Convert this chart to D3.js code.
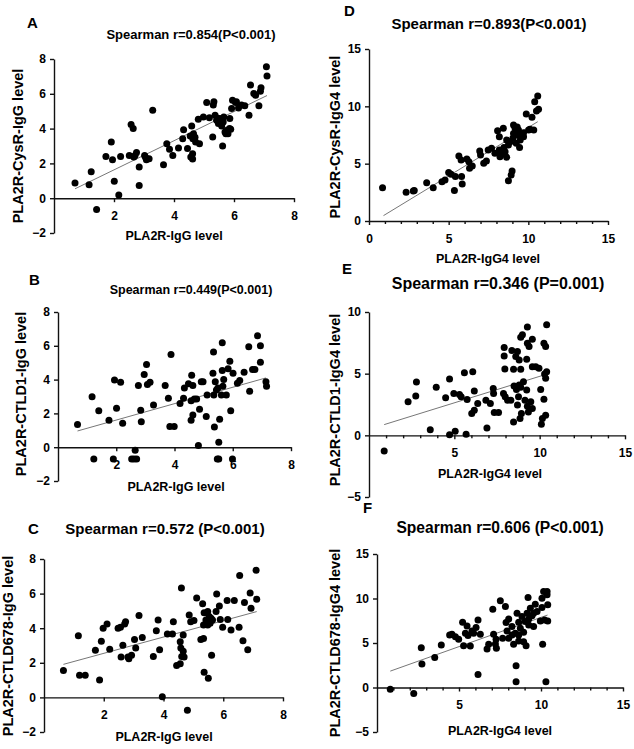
<!DOCTYPE html>
<html>
<head>
<meta charset="utf-8">
<script src="https://cdn.jsdelivr.net/npm/d3@7"></script>
<style>
  body { margin: 0; background: #fff; }
  svg text { font-family: Arial, "Liberation Sans", sans-serif; font-weight: bold; fill: #000; }
</style>
</head>
<body>
<svg id="chart" width="634" height="749"></svg>
<script>
// ---- data: [PLA2R-IgG(4) level, fragment level] ----
const cysrIgG = [[0.70,0.88],[1.17,0.77],[1.24,1.52],[1.42,-0.65],[1.73,2.40],[1.91,3.23],[1.95,2.21],[2.01,0.98],
  [2.16,0.19],[2.22,2.40],[2.51,2.46],[2.57,4.23],[2.64,4.00],[2.66,2.37],[2.75,2.62],[2.84,1.79],[2.84,0.73],
  [3.02,2.46],[3.08,2.21],[3.17,2.27],[3.29,5.06],[3.65,1.92],[3.76,3.13],[3.85,2.81],[3.96,2.46],[4.15,2.88],
  [4.29,3.42],[4.32,3.94],[4.45,2.85],[4.54,3.58],[4.59,4.15],[4.63,3.42],[4.56,2.37],[4.62,2.56],[4.72,3.23],
  [4.81,4.54],[4.85,3.13],[4.98,4.67],[5.09,5.50],[5.18,4.62],[5.31,5.35],[5.33,5.54],[5.29,3.52],[5.37,4.77],
  [5.42,4.48],[5.48,4.29],[5.53,4.58],[5.59,4.15],[5.62,3.00],[5.66,4.67],[5.73,3.71],[5.77,3.90],[5.86,4.58],
  [5.89,3.96],[5.92,5.15],[5.95,5.63],[6.08,5.54],[6.15,5.19],[6.25,5.35],[6.36,5.31],[6.50,4.77],[6.55,6.50],
  [6.66,6.02],[6.72,5.92],[6.83,5.31],[6.88,6.15],[6.90,6.35],[7.08,7.56],[7.10,7.02],[5.64,4.38],[4.62,2.25],
  [5.45,4.60],[5.55,4.40],[5.70,3.80],[5.80,3.70],[5.85,4.00],[6.05,5.50],[2.70,2.45],[3.05,2.35],[4.65,3.70],[4.70,3.50]];
const cysrIgG4 = [[0.85,2.91],[2.33,2.50],[2.78,2.62],[2.84,2.65],[3.62,3.34],[4.03,2.91],[4.58,3.43],[4.77,3.58],
  [5.00,4.22],[5.15,4.07],[5.36,2.67],[5.42,3.87],[5.64,5.67],[5.78,5.32],[5.81,3.87],[5.85,3.23],[6.14,5.41],
  [6.27,5.17],[6.31,4.59],[6.48,4.80],[6.95,6.10],[7.00,5.76],[7.20,5.03],[7.37,5.23],[7.48,6.19],[7.69,6.34],
  [7.90,5.90],[8.07,7.88],[8.18,7.35],[8.18,6.19],[8.22,5.61],[8.43,8.08],[8.47,6.42],[8.54,6.05],[8.64,5.55],
  [8.75,3.52],[8.75,6.63],[8.86,6.92],[8.92,4.01],[8.98,4.36],[9.03,7.21],[9.07,8.37],[9.17,8.08],[9.28,7.50],
  [9.38,7.94],[9.45,6.42],[9.49,7.06],[9.60,7.50],[9.70,7.35],[9.87,9.33],[10.02,7.94],[10.23,9.04],[10.34,7.94],
  [10.40,10.41],[10.51,9.59],[10.59,10.90],[10.64,9.74],[9.24,6.77],[9.07,7.64],[8.64,7.06],[9.70,7.70],
  [10.10,8.00],[9.30,8.20],[8.30,5.80]];
const ctld1IgG = [[0.67,1.35],[1.17,2.99],[1.23,-0.70],[1.40,2.15],[1.75,1.59],[1.90,-0.70],[1.94,3.98],[2.01,2.31],
  [2.15,3.84],[2.22,1.41],[2.53,-0.70],[2.61,-0.70],[2.65,-0.18],[2.70,-0.70],[2.76,3.65],[2.84,2.19],[2.86,1.51],
  [2.96,4.30],[3.04,4.90],[3.07,3.71],[3.16,3.84],[3.28,2.49],[3.68,3.65],[3.79,2.89],[3.88,5.48],[3.84,1.22],
  [3.99,1.22],[4.19,2.59],[4.31,2.89],[4.34,3.51],[4.48,3.75],[4.57,2.75],[4.59,4.26],[4.63,3.65],[4.57,1.59],
  [4.63,1.91],[4.68,2.85],[4.76,2.85],[4.82,0.10],[4.86,2.25],[4.92,3.88],[4.98,3.88],[5.09,1.81],[5.12,3.09],
  [5.32,4.38],[5.34,5.64],[5.35,3.09],[5.37,1.20],[5.40,3.88],[5.44,3.39],[5.49,3.51],[5.47,-0.70],[5.52,0.30],
  [5.55,1.65],[5.61,3.09],[5.64,4.54],[5.64,6.18],[5.69,4.00],[5.78,3.09],[5.84,4.64],[5.90,5.08],[5.93,2.15],
  [5.99,-0.70],[6.01,4.38],[6.16,3.78],[6.24,3.94],[6.39,4.44],[6.55,5.94],[6.58,3.31],[6.68,4.60],[6.76,4.60],
  [6.85,6.59],[6.95,6.00],[6.95,5.02],[7.14,3.88],[7.16,3.61],[5.52,-0.70],[5.66,3.60]];
const ctld1IgG4 = [[0.89,-1.28],[2.29,2.72],[2.74,3.18],[2.78,4.32],[3.59,0.46],[3.94,3.89],[4.49,3.04],[4.72,0.05],
  [4.72,4.57],[4.97,3.40],[5.05,0.33],[5.30,3.32],[5.40,3.13],[5.59,5.08],[5.69,0.08],[5.75,2.91],[6.02,1.77],
  [6.08,5.16],[6.17,3.59],[6.17,2.04],[6.37,2.58],[6.91,0.60],[6.85,2.85],[7.11,2.58],[7.28,3.80],[7.30,3.40],
  [7.34,1.85],[7.59,1.85],[7.92,7.12],[7.92,6.44],[7.96,5.38],[7.88,3.40],[7.98,3.13],[8.12,2.85],[8.31,2.85],
  [8.37,6.88],[8.47,5.35],[8.47,1.09],[8.50,3.99],[8.60,6.39],[8.64,3.72],[8.70,2.45],[8.70,6.79],[8.80,6.11],
  [8.80,4.08],[8.85,1.36],[8.89,7.96],[8.89,5.35],[8.93,1.77],[8.99,8.15],[9.05,4.35],[9.14,2.85],[9.24,6.17],
  [9.24,3.67],[9.28,8.78],[9.28,7.47],[9.28,2.36],[9.34,1.90],[9.38,7.20],[9.48,2.72],[9.57,7.80],[9.57,5.57],
  [9.57,2.17],[9.77,5.57],[9.96,5.43],[10.06,3.72],[10.10,0.90],[10.16,1.36],[10.25,7.47],[10.25,2.93],
  [10.29,4.97],[10.35,7.20],[10.35,4.62],[10.35,1.63],[10.41,8.97],[10.41,5.16],[8.76,3.13],[8.89,3.89]];
const ctld678IgG = [[0.65,1.56],[1.15,3.56],[1.19,1.28],[1.38,1.28],[1.72,2.72],[1.86,1.01],[1.92,3.25],[1.98,3.99],
  [2.11,4.24],[2.20,2.78],[2.48,3.99],[2.56,4.05],[2.58,2.33],[2.64,3.02],[2.70,4.24],[2.73,4.38],[2.81,2.33],
  [2.84,2.24],[2.93,2.43],[3.03,3.35],[3.07,2.86],[3.18,4.73],[3.29,3.46],[3.66,2.37],[3.76,3.85],[3.82,4.47],
  [3.87,2.76],[3.96,0.04],[4.13,3.66],[4.30,3.66],[4.33,4.38],[4.44,1.85],[4.56,1.95],[4.56,3.21],[4.58,2.86],
  [4.60,6.32],[4.61,2.37],[4.66,2.67],[4.69,2.33],[4.66,3.60],[4.80,-0.74],[4.86,4.77],[4.91,4.38],[5.02,4.44],
  [5.11,5.74],[5.25,3.35],[5.31,5.41],[5.34,3.40],[5.34,4.18],[5.36,4.90],[5.36,1.46],[5.42,4.47],[5.48,4.96],
  [5.50,1.11],[5.53,4.67],[5.56,4.28],[5.61,2.43],[5.64,4.47],[5.76,4.96],[5.78,5.97],[5.87,5.29],[5.90,4.51],
  [5.98,4.05],[6.13,5.60],[6.15,4.51],[6.26,3.89],[6.37,5.60],[6.53,4.05],[6.55,7.04],[6.66,3.27],[6.71,5.49],
  [6.82,2.76],[6.90,6.03],[6.93,5.16],[7.10,7.35],[7.12,5.68],[5.59,4.57],[5.48,4.18]];
const ctld678IgG4 = [[0.81,-0.19],[2.24,-0.68],[2.70,4.47],[2.74,2.63],[3.52,3.38],[3.92,4.77],[4.43,5.90],[4.57,5.98],
  [4.78,5.71],[4.98,5.41],[5.22,7.33],[5.28,4.70],[5.39,6.09],[5.49,6.92],[5.55,5.83],[5.69,4.66],[5.79,6.35],
  [5.89,6.09],[6.04,6.73],[6.16,7.59],[6.16,1.47],[6.30,5.98],[6.71,4.32],[6.81,4.85],[7.06,8.80],[7.11,5.98],
  [7.22,4.89],[7.28,4.40],[7.26,5.41],[7.52,9.74],[7.83,9.10],[7.87,7.29],[7.93,6.35],[8.03,5.53],[8.03,7.71],
  [8.23,6.84],[8.33,4.85],[8.43,6.09],[8.48,2.44],[8.48,0.64],[8.54,8.35],[8.64,7.33],[8.64,5.23],[8.74,6.65],
  [8.84,7.97],[8.94,6.20],[9.04,7.41],[9.09,4.70],[9.15,8.35],[9.21,10.11],[9.25,7.03],[9.35,8.91],[9.45,8.05],
  [9.55,6.84],[9.65,9.36],[9.76,8.53],[9.96,7.48],[10.06,10.04],[10.06,8.98],[10.10,4.85],[10.16,10.79],
  [10.22,7.59],[10.30,0.64],[10.37,10.79],[10.37,10.41],[10.41,9.29],[10.41,7.48],[8.64,5.90],[8.94,5.15],
  [9.25,7.71],[9.55,8.35],[8.23,5.90],[7.66,5.53]];

// fitted lines (end points as drawn)
const fitA = [[0.70,0.54],[7.10,5.90]];
const fitB = [[0.67,0.96],[7.14,4.10]];
const fitC = [[0.65,1.91],[7.12,4.96]];
const fitD = [[0.91,0.47],[10.59,8.66]];
const fitE = [[0.89,0.87],[10.25,4.89]];
const fitF = [[0.81,1.84],[10.40,8.14]];

const ticksIgG = [2, 4, 6, 8];
const ticksIgGY = [-2, 0, 2, 4, 6, 8];
const ticksIgG4D = [0, 5, 10, 15];
const ticksIgG4 = [5, 10, 15];
const minorIgG4 = d3.range(1, 15).filter(v => v % 5 !== 0);
const ticksE_Y = [-5, 0, 5, 10];
const ticksF_Y = [-5, 0, 5, 10, 15];

const panels = [
  { letter: "A", title: "Spearman r=0.854(P<0.001)", titleSize: 13, pts: cysrIgG, fit: fitA,
    xDom: [0, 8], xR: [54, 294], yDom: [-2, 8], yR: [233, 59], xT: ticksIgG, yT: ticksIgGY, minor: [],
    xLab: "PLA2R-IgG level", yLab: "PLA2R-CysR-IgG level",
    letterPos: [27, 28], titlePos: [191, 38.5], xLabPos: [174, 240], yLabPos: [18, 146] },
  { letter: "B", title: "Spearman r=0.449(P<0.001)", titleSize: 12.5, pts: ctld1IgG, fit: fitB,
    xDom: [0, 8], xR: [58, 291], yDom: [-2, 8], yR: [481, 312], xT: ticksIgG, yT: ticksIgGY, minor: [],
    xLab: "PLA2R-IgG level", yLab: "PLA2R-CTLD1-IgG level",
    letterPos: [29, 285], titlePos: [191, 293.5], xLabPos: [176, 491], yLabPos: [21, 394] },
  { letter: "C", title: "Spearman r=0.572 (P<0.001)", titleSize: 15, pts: ctld678IgG, fit: fitC,
    xDom: [0, 8], xR: [44, 283], yDom: [-2, 8], yR: [732, 559], xT: ticksIgG, yT: ticksIgGY, minor: [],
    xLab: "PLA2R-IgG level", yLab: "PLA2R-CTLD678-IgG level",
    letterPos: [28, 534], titlePos: [165, 534], xLabPos: [164, 741], yLabPos: [8, 646] },
  { letter: "D", title: "Spearman r=0.893(P<0.001)", titleSize: 15, pts: cysrIgG4, fit: fitD,
    xDom: [0, 15], xR: [369, 608], yDom: [0, 15], yR: [221, 49], xT: ticksIgG4D, yT: ticksIgG4D, minor: minorIgG4,
    xLab: "PLA2R-IgG4 level", yLab: "PLA2R-CysR-IgG4 level",
    letterPos: [344, 16], titlePos: [489, 29], xLabPos: [488, 263], yLabPos: [335, 137] },
  { letter: "E", title: "Spearman r=0.346 (P=0.001)", titleSize: 16, pts: ctld1IgG4, fit: fitE,
    xDom: [0, 15], xR: [369, 625], yDom: [-5, 10], yR: [497, 312], xT: ticksIgG4, yT: ticksE_Y, minor: minorIgG4,
    xLab: "PLA2R-IgG4 level", yLab: "PLA2R-CTLD1-IgG4 level",
    letterPos: [342, 274], titlePos: [498, 289], xLabPos: [490, 478], yLabPos: [335, 400] },
  { letter: "F", title: "Spearman r=0.606 (P<0.001)", titleSize: 15.6, pts: ctld678IgG4, fit: fitF,
    xDom: [0, 15], xR: [377, 623], yDom: [-5, 15], yR: [732, 554], xT: ticksIgG4, yT: ticksF_Y, minor: minorIgG4,
    xLab: "PLA2R-IgG4 level", yLab: "PLA2R-CTLD678-IgG4 level",
    letterPos: [363, 513], titlePos: [500, 533], xLabPos: [500, 735], yLabPos: [335, 643] }
];

const svg = d3.select("#chart");

function drawPanel(p) {
  const x = d3.scaleLinear().domain(p.xDom).range(p.xR);
  const y = d3.scaleLinear().domain(p.yDom).range(p.yR);
  const g = svg.append("g");

  // y axis sits at x = 0
  g.append("g")
    .attr("transform", `translate(${x(0)},0)`)
    .call(d3.axisLeft(y).tickValues(p.yT).tickSize(4).tickPadding(4).tickSizeOuter(0).tickFormat(d3.format("d")));
  // x axis sits at y = 0
  g.append("g")
    .attr("transform", `translate(0,${y(0)})`)
    .call(d3.axisBottom(x).tickValues(p.xT).tickSize(4).tickPadding(9).tickSizeOuter(0).tickFormat(d3.format("d")));
  if (p.minor.length) {
    g.append("g")
      .attr("transform", `translate(0,${y(0)})`)
      .call(d3.axisBottom(x).tickValues(p.minor).tickSize(3).tickSizeOuter(0).tickFormat(""))
      .select(".domain").remove();
  }
  g.selectAll(".domain, .tick line").attr("stroke", "#111").attr("stroke-width", 1.4);
  g.selectAll(".tick text").style("font-size", "12px");

  // fit line then dots
  g.append("line")
    .attr("x1", x(p.fit[0][0])).attr("y1", y(p.fit[0][1]))
    .attr("x2", x(p.fit[1][0])).attr("y2", y(p.fit[1][1]))
    .attr("stroke", "#777").attr("stroke-width", 1);

  g.selectAll("circle").data(p.pts).join("circle")
    .attr("cx", d => x(d[0])).attr("cy", d => y(d[1]))
    .attr("r", 3.5).attr("fill", "#000");

  g.append("text").attr("x", p.letterPos[0]).attr("y", p.letterPos[1])
    .style("font-size", "15px").text(p.letter);
  g.append("text").attr("x", p.titlePos[0]).attr("y", p.titlePos[1])
    .attr("text-anchor", "middle").style("font-size", p.titleSize + "px").text(p.title);
  g.append("text").attr("x", p.xLabPos[0]).attr("y", p.xLabPos[1])
    .attr("text-anchor", "middle").style("font-size", "12.5px").text(p.xLab);
  g.append("text")
    .attr("transform", `translate(${p.yLabPos[0]},${p.yLabPos[1]}) rotate(-90)`)
    .attr("text-anchor", "middle").attr("dy", "0.35em")
    .style("font-size", "14.5px").text(p.yLab);
}

panels.forEach(drawPanel);
</script>
</body>
</html>
